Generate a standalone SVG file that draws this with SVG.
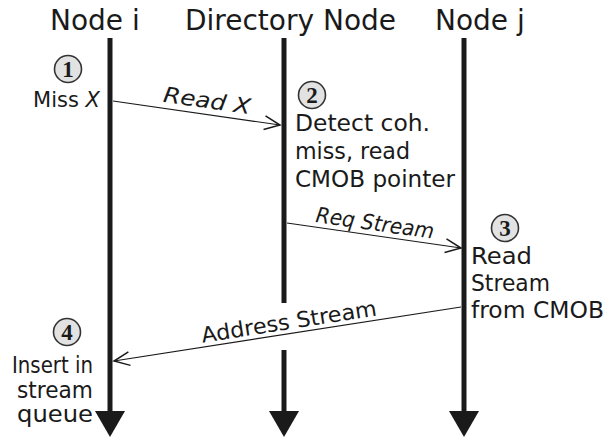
<svg xmlns="http://www.w3.org/2000/svg" width="605" height="437" viewBox="0 0 605 437">
<defs>
<marker id="open" markerUnits="userSpaceOnUse" markerWidth="20" markerHeight="20" viewBox="-14 -8 16 16" refX="0" refY="0" orient="auto">
<path d="M-12.5,-5.5 L0,0 L-12.5,5.5" fill="none" stroke="#1a1a1a" stroke-width="1.2"/>
</marker>
</defs>
<style>
.title{font-family:"DejaVu Sans",sans-serif;font-size:28px;fill:#1a1a1a}
.body{font-family:"DejaVu Sans",sans-serif;font-size:22.5px;fill:#1a1a1a}
.lab{font-family:"DejaVu Sans",sans-serif;font-size:21.5px;fill:#1a1a1a}
.life{stroke:#1a1a1a;stroke-width:5;fill:none}
.head{fill:#1a1a1a}
.msg{stroke:#1a1a1a;stroke-width:1.2;fill:none;marker-end:url(#open)}
.circ{fill:#e2e2e2;stroke:#333;stroke-width:1.6}
.num{font-family:"Liberation Serif",serif;font-weight:bold;font-size:23px;fill:#1a1a1a;text-anchor:middle}
</style>
<rect width="605" height="437" fill="#fff"/>
<g id="node-i">
<text class="title" x="50" y="30">Node i</text>
<line class="life" x1="110" y1="38" x2="110" y2="412"/>
<polygon class="head" points="95,411 125,411 110,437"/>
</g>
<g id="directory-node">
<text class="title" x="185" y="30">Directory Node</text>
<line class="life" x1="284" y1="38" x2="284" y2="303"/>
<line class="life" x1="284" y1="350" x2="284" y2="412"/>
<polygon class="head" points="269,411 299,411 284,437"/>
</g>
<g id="node-j">
<text class="title" x="435" y="30">Node j</text>
<line class="life" x1="464" y1="38" x2="464" y2="412"/>
<polygon class="head" points="449,411 479,411 464,437"/>
</g>
<g id="step1">
<circle class="circ" cx="68" cy="69" r="13.5"/>
<text class="num" x="68" y="77">1</text>
<text class="body" x="100" y="107" text-anchor="end" style="font-size:21px">Miss <tspan font-style="italic">X</tspan></text>
</g>
<g id="step2">
<circle class="circ" cx="312" cy="95" r="13.5"/>
<text class="num" x="312" y="103">2</text>
<text class="body" x="295" y="131" textLength="135" lengthAdjust="spacingAndGlyphs">Detect coh.</text>
<text class="body" x="295" y="159" textLength="115" lengthAdjust="spacingAndGlyphs">miss, read</text>
<text class="body" x="295" y="187" textLength="160" lengthAdjust="spacingAndGlyphs">CMOB pointer</text>
</g>
<g id="step3">
<circle class="circ" cx="505" cy="228" r="13.5"/>
<text class="num" x="505" y="236">3</text>
<text class="body" x="471" y="264" textLength="61" lengthAdjust="spacingAndGlyphs">Read</text>
<text class="body" x="471" y="291" textLength="79" lengthAdjust="spacingAndGlyphs">Stream</text>
<text class="body" x="471" y="318" textLength="133" lengthAdjust="spacingAndGlyphs">from CMOB</text>
</g>
<g id="step4">
<circle class="circ" cx="67" cy="332" r="13.5"/>
<text class="num" x="67" y="340">4</text>
<text class="body" x="93" y="373" text-anchor="end" textLength="81" lengthAdjust="spacingAndGlyphs">Insert in</text>
<text class="body" x="93" y="398" text-anchor="end" textLength="76" lengthAdjust="spacingAndGlyphs">stream</text>
<text class="body" x="93" y="422" text-anchor="end" textLength="76" lengthAdjust="spacingAndGlyphs">queue</text>
</g>
<g id="connectors">
<line class="msg" x1="113" y1="101" x2="280" y2="125"/>
<text class="lab" x="206" y="108" text-anchor="middle" font-style="italic" transform="rotate(8.2 206 108)" textLength="88" lengthAdjust="spacingAndGlyphs">Read X</text>
<line class="msg" x1="287" y1="223" x2="461" y2="248"/>
<text class="lab" x="374" y="230.5" text-anchor="middle" font-style="italic" transform="rotate(8.1 374 230.5)" textLength="119" lengthAdjust="spacingAndGlyphs">Req Stream</text>
<line class="msg" x1="461" y1="307" x2="114" y2="361"/>
<text class="lab" x="290" y="329" text-anchor="middle" transform="rotate(-8.9 290 329)" textLength="177" lengthAdjust="spacingAndGlyphs">Address Stream</text>
</g>
</svg>
